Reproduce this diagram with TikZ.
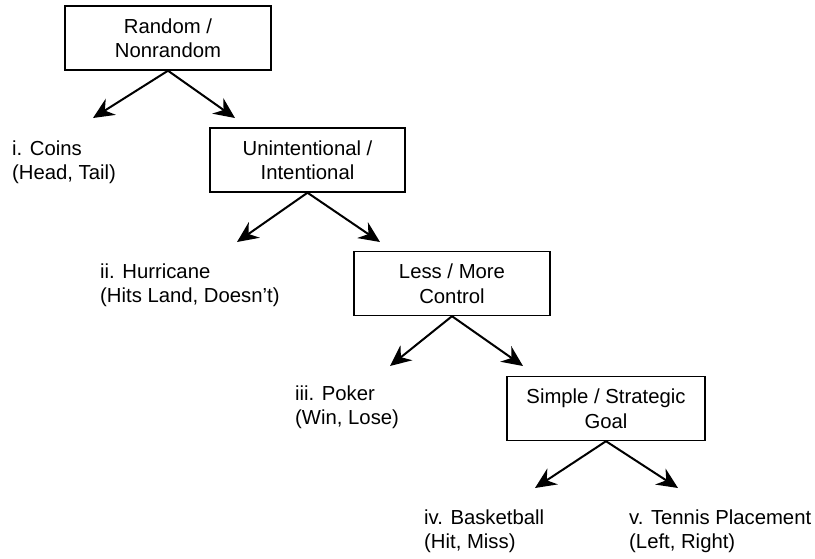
\documentclass[tikz,border=0pt]{standalone}
\usepackage{fontspec}
\setmainfont{Liberation Sans}
\usetikzlibrary{arrows.meta}
\tikzset{
  choice/.style={draw, line width=1.4pt, align=center, inner sep=0pt,
    minimum height=64pt, font=\fontsize{20.3}{24.5}\selectfont},
  outcome/.style={anchor=west, align=left, inner sep=0pt,
    font=\fontsize{20.3}{23.5}\selectfont},
  arr/.style={line width=2pt, -{Stealth[length=21pt, width=19pt, inset=7pt]}}
}
\begin{document}
\begin{tikzpicture}[x=1pt, y=-1pt]
\useasboundingbox (0,0) rectangle (815,558);

% decision boxes
\node[choice, minimum width=206pt] (b1) at (168,38) {Random /\\Nonrandom};
\node[choice, minimum width=195pt] (b2) at (307.5,160) {Unintentional /\\Intentional};
\node[choice, minimum width=196pt] (b3) at (452,283.5) {Less / More\\Control};
\node[choice, minimum width=198pt] (b4) at (606,408.5) {Simple / Strategic\\Goal};

% outcomes
\node[outcome] (o1) at (12,162) {i. Coins\\(Head, Tail)};
\node[outcome] (o2) at (100,285) {ii. Hurricane\\(Hits Land, Doesn’t)};
\node[outcome] (o3) at (295,407) {iii. Poker\\(Win, Lose)};
\node[outcome] (o4) at (424,531) {iv. Basketball\\(Hit, Miss)};
\node[outcome] (o5) at (629,531) {v. Tennis Placement\\(Left, Right)};

% arrow tips
\coordinate (t1l) at (93,118);
\coordinate (t1r) at (235,118);
\coordinate (t2l) at (237,242);
\coordinate (t2r) at (380,242);
\coordinate (t3l) at (390,366);
\coordinate (t3r) at (523,366);
\coordinate (t4l) at (535,488);
\coordinate (t4r) at (678,488);

% branches
\draw[arr] (b1.south) -- (t1l);
\draw[arr] (b1.south) -- (t1r);
\draw[arr] (b2.south) -- (t2l);
\draw[arr] (b2.south) -- (t2r);
\draw[arr] (b3.south) -- (t3l);
\draw[arr] (b3.south) -- (t3r);
\draw[arr] (b4.south) -- (t4l);
\draw[arr] (b4.south) -- (t4r);
\end{tikzpicture}
\end{document}
